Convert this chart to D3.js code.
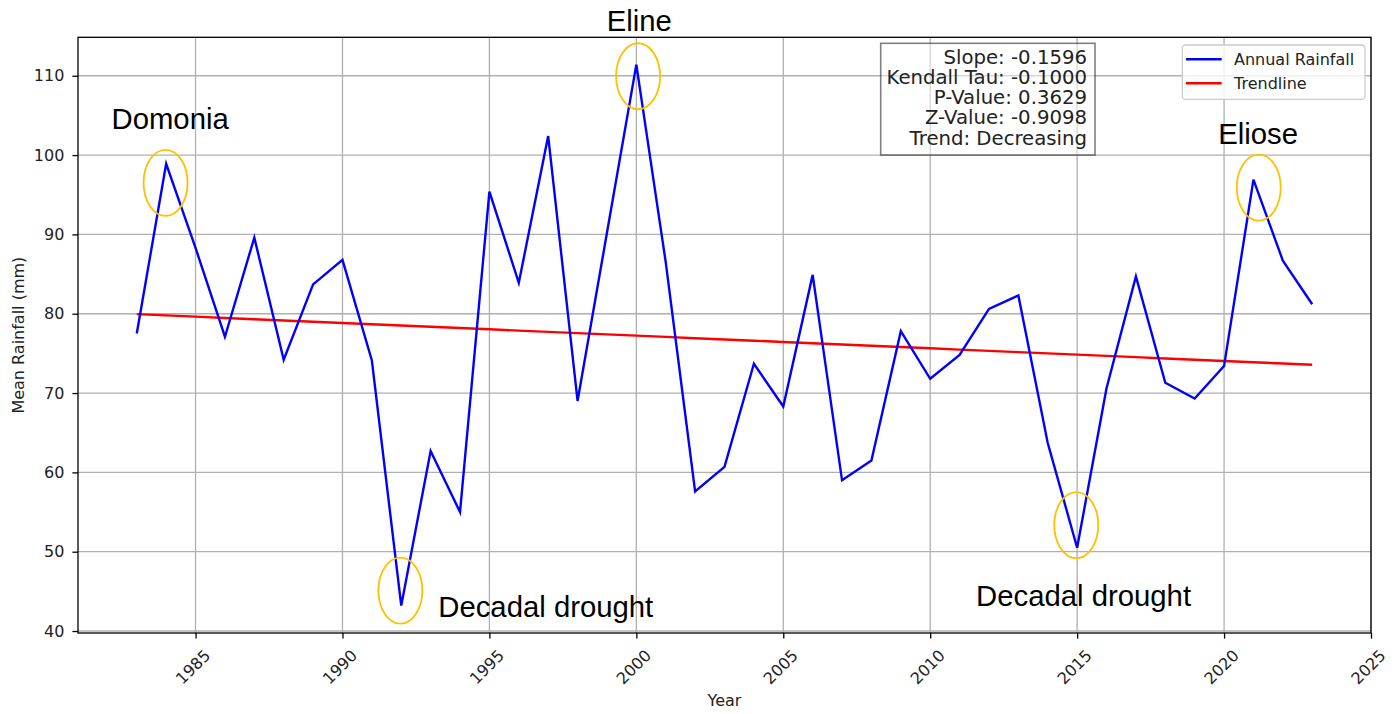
<!DOCTYPE html>
<html>
<head>
<meta charset="utf-8">
<script src="https://cdn.jsdelivr.net/npm/d3@7"></script>
<style>
  html, body { margin: 0; padding: 0; background: #fff; }
  svg { display: block; }
  text { fill: #000; }
</style>
</head>
<body>
<svg id="chart" width="1396" height="714"></svg>
<script>
// ---------------- data ----------------
const years = [1983, 1984, 1985, 1986, 1987, 1988, 1989, 1990, 1991, 1992,
               1993, 1994, 1995, 1996, 1997, 1998, 1999, 2000, 2001, 2002,
               2003, 2004, 2005, 2006, 2007, 2008, 2009, 2010, 2011, 2012,
               2013, 2014, 2015, 2016, 2017, 2018, 2019, 2020, 2021, 2022, 2023];
const rainfall = [77.5, 98.9, 88.3, 77.1, 89.6, 74.2, 83.7, 86.8, 74.1, 43.2,
                  62.7, 55.0, 95.4, 83.9, 102.4, 69.0, 90.2, 111.4, 86.5, 57.6,
                  60.7, 73.7, 68.3, 84.9, 59.0, 61.5, 77.8, 71.8, 74.8, 80.6,
                  82.3, 63.7, 50.5, 70.6, 84.7, 71.3, 69.3, 73.4, 96.9, 86.7, 81.2];
const trendStart = 79.95;      // trend value at first year
const trendSlope = -0.1596;    // Sen's slope per year
const xTicks = [1985, 1990, 1995, 2000, 2005, 2010, 2015, 2020, 2025];
const yTicks = [40, 50, 60, 70, 80, 90, 100, 110];
const statsLines = ["Slope: -0.1596", "Kendall Tau: -0.1000", "P-Value: 0.3629",
                    "Z-Value: -0.9098", "Trend: Decreasing"];
const legendLabels = ["Annual Rainfall", "Trendline"];
// annotation circles (centre year, centre value)
const circleYears = [1983.98, 1991.97, 2000.06, 2014.97, 2021.18];
const circleValues = [96.5, 45.1, 109.94, 53.35, 95.9];
// annotation labels (start year, baseline value)
const noteTexts = ["Domonia", "Decadal drought", "Eline", "Decadal drought", "Eliose"];
const noteYears = [1982.14, 1993.26, 1998.99, 2011.56, 2019.8];
const noteValues = [103.3, 41.8, 115.7, 43.2, 101.4];

// ---------------- layout ----------------
const L = 78, R = 1371, T = 37.3, B = 633;
const DJ = "'DejaVu Sans', sans-serif";
const AR = "'Liberation Sans', Arial, sans-serif";
const svg = d3.select("#chart");
const x = d3.scaleLinear().domain([1981, 2025]).range([L, R]);
const y = d3.scaleLinear().domain([39.75, 114.85]).range([B, T]);

// grid
const grid = svg.append("g");
grid.selectAll("line.vx").data(xTicks).join("line")
  .attr("x1", d => x(d)).attr("x2", d => x(d)).attr("y1", T).attr("y2", B)
  .attr("stroke", "#b0b0b0").attr("stroke-width", 1.3);
grid.selectAll("line.hy").data(yTicks).join("line")
  .attr("x1", L).attr("x2", R).attr("y1", d => y(d)).attr("y2", d => y(d))
  .attr("stroke", "#b0b0b0").attr("stroke-width", 1.3);

// trend line
const trend = years.map(yr => trendStart + trendSlope * (yr - years[0]));
const line = d3.line().x(d => x(d[0])).y(d => y(d[1]));
svg.append("path")
  .attr("d", line(years.map((yr, i) => [yr, trend[i]])))
  .attr("fill", "none").attr("stroke", "#ff0000").attr("stroke-width", 2.4);

// rainfall line
svg.append("path")
  .attr("d", line(years.map((yr, i) => [yr, rainfall[i]])))
  .attr("fill", "none").attr("stroke", "#0000ff").attr("stroke-width", 2.4)
  .attr("stroke-linejoin", "miter");

// axes
const xAxis = svg.append("g").attr("transform", `translate(0,${B})`)
  .call(d3.axisBottom(x).tickValues(xTicks).tickFormat(d3.format("d")).tickSize(5.6).tickSizeOuter(0));
xAxis.select(".domain").remove();
xAxis.selectAll(".tick line").attr("stroke", "#000").attr("stroke-width", 1.3);
xAxis.selectAll(".tick text")
  .style("font-family", DJ).style("font-size", "16px").style("fill", "#222")
  .attr("text-anchor", "middle").attr("dominant-baseline", "central")
  .attr("y", 0).attr("dy", 0)
  .attr("transform", "translate(-3,34) rotate(-45)");

const yAxis = svg.append("g").attr("transform", `translate(${L},0)`)
  .call(d3.axisLeft(y).tickValues(yTicks).tickFormat(d3.format("d")).tickSize(5.6).tickPadding(8).tickSizeOuter(0));
yAxis.select(".domain").remove();
yAxis.selectAll(".tick line").attr("stroke", "#000").attr("stroke-width", 1.3);
yAxis.selectAll(".tick text")
  .style("font-family", DJ).style("font-size", "16px").style("fill", "#222");

// frame (spines)
svg.append("rect").attr("x", L).attr("y", T).attr("width", R - L).attr("height", B - T)
  .attr("fill", "none").attr("stroke", "#000").attr("stroke-width", 1.3);

// axis labels
svg.append("text").attr("x", (L + R) / 2).attr("y", 706).attr("text-anchor", "middle")
  .style("font-family", DJ).style("font-size", "16px").style("fill", "#222").text("Year");
svg.append("text").attr("transform", `translate(24,${(T + B) / 2}) rotate(-90)`)
  .attr("text-anchor", "middle")
  .style("font-family", DJ).style("font-size", "16px").style("fill", "#222")
  .text("Mean Rainfall (mm)");

// stats box
svg.append("rect").attr("x", 880.7).attr("y", 43.3).attr("width", 214.3).attr("height", 111.7)
  .attr("fill", "#fff").attr("fill-opacity", 0.5)
  .attr("stroke", "#000").attr("stroke-opacity", 0.5).attr("stroke-width", 1.6);
svg.append("g").selectAll("text").data(statsLines).join("text")
  .attr("x", 1087).attr("y", (d, i) => 63.5 + i * 20.3)
  .attr("text-anchor", "end")
  .style("font-family", DJ).style("font-size", "19.7px").style("fill", "#222")
  .text(d => d);

// legend
const lg = svg.append("g");
lg.append("rect").attr("x", 1182.3).attr("y", 45).attr("width", 182.7).attr("height", 54.3)
  .attr("rx", 3.5).attr("fill", "#fff").attr("fill-opacity", 0.8)
  .attr("stroke", "#cccccc").attr("stroke-width", 1.3);
const legendColors = ["#0000ff", "#ff0000"];
legendLabels.forEach((lab, i) => {
  const ly = 59.3 + i * 24;
  lg.append("line").attr("x1", 1186).attr("x2", 1221.7).attr("y1", ly).attr("y2", ly)
    .attr("stroke", legendColors[i]).attr("stroke-width", 2.4);
  lg.append("text").attr("x", 1234).attr("y", ly + 5.7)
    .style("font-family", DJ).style("font-size", "16px").style("fill", "#222").text(lab);
});

// annotation ellipses
svg.append("g").selectAll("ellipse").data(circleYears).join("ellipse")
  .attr("cx", d => x(d)).attr("cy", (d, i) => y(circleValues[i]))
  .attr("rx", 22).attr("ry", 33)
  .attr("fill", "none").attr("stroke", "#ffc000").attr("stroke-width", 1.8);

// annotation texts
svg.append("g").selectAll("text").data(noteTexts).join("text")
  .attr("x", (d, i) => x(noteYears[i])).attr("y", (d, i) => y(noteValues[i]))
  .style("font-family", AR).style("font-size", "29.3px").style("fill", "#000")
  .text(d => d);
</script>
</body>
</html>
